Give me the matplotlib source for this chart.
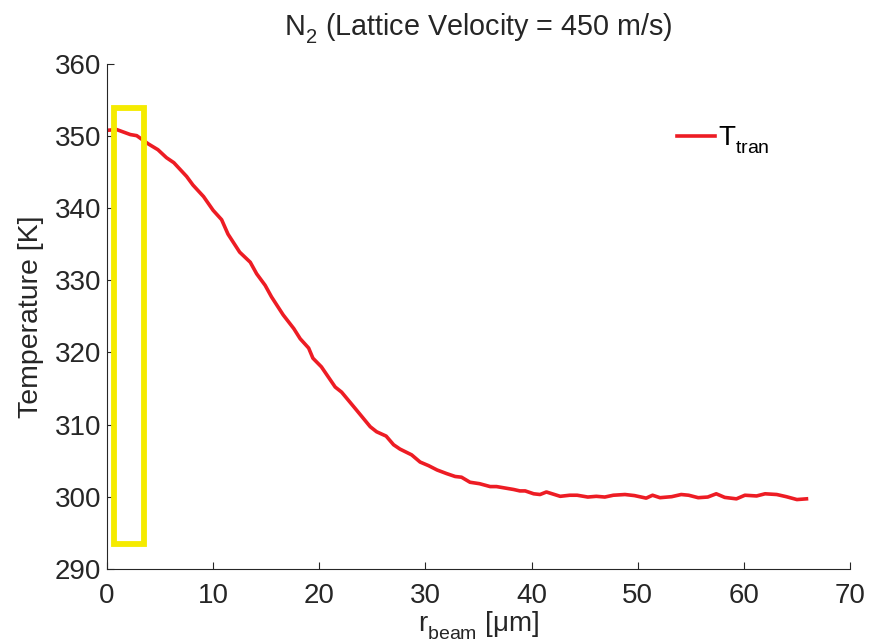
import matplotlib
matplotlib.use('Agg')
import matplotlib.pyplot as plt
from matplotlib.patches import Rectangle

plt.rcParams['font.family'] = ['Liberation Sans', 'DejaVu Sans']
plt.rcParams['mathtext.fontset'] = 'custom'
plt.rcParams['mathtext.rm'] = 'Liberation Sans'

# MATLAB drops its subscripts further than mathtext does
try:
    from matplotlib import _mathtext
    _mathtext.FontConstantsBase.sub1 = 0.55
    _mathtext.FontConstantsBase.sub2 = 0.65
except (ImportError, AttributeError):
    pass

# values
r_beam = [0.1, 0.9, 2.2, 2.8, 3.9, 4.8, 5.6, 6.3, 7.5, 8.1, 9.1, 10.0, 10.8,
          11.4, 12.5, 13.5, 14.1, 14.9, 15.5, 16.6, 17.6, 18.2, 19.0, 19.4,
          20.2, 21.5, 22.1, 23.4, 24.8, 25.4, 26.3, 27.0, 27.6, 28.7, 29.5,
          30.3, 31.1, 32.0, 32.8, 33.4, 34.2, 35.1, 36.1, 36.7, 37.5, 38.3,
          38.9, 39.4, 40.2, 40.8, 41.4, 42.7, 43.6, 44.3, 45.3, 46.1, 46.9,
          47.7, 48.8, 49.7, 50.8, 51.4, 52.1, 53.2, 54.1, 54.8, 55.7, 56.6,
          57.4, 58.2, 59.3, 60.1, 61.2, 62.0, 63.1, 64.0, 65.0, 65.9]
t_tran = [350.8, 350.9, 350.2, 350.05, 348.9, 348.1, 347.0, 346.3, 344.4,
          343.2, 341.6, 339.7, 338.4, 336.4, 333.9, 332.5, 330.9, 329.3,
          327.7, 325.2, 323.3, 321.9, 320.6, 319.2, 318.0, 315.2, 314.5,
          312.2, 309.7, 309.0, 308.4, 307.2, 306.6, 305.8, 304.8, 304.3,
          303.7, 303.2, 302.8, 302.7, 302.0, 301.8, 301.4, 301.4, 301.2,
          301.0, 300.8, 300.8, 300.4, 300.3, 300.65, 300.05, 300.2, 300.2,
          299.95, 300.05, 299.95, 300.2, 300.3, 300.15, 299.8, 300.2, 299.86,
          300.0, 300.3, 300.2, 299.86, 299.95, 300.4, 299.9, 299.7, 300.2,
          300.1, 300.4, 300.3, 300.0, 299.6, 299.7]

x_ticks = [0, 10, 20, 30, 40, 50, 60, 70]
y_ticks = [290, 300, 310, 320, 330, 340, 350, 360]

# highlighted region (yellow box)
box_r = (0.7, 3.5)
box_t = (293.4, 353.9)


def plot_temperature():
    fig = plt.figure(figsize=(8.82, 6.42), dpi=100)
    ax = fig.add_axes([0.1213, 0.114, 0.8424, 0.7865])

    ax.plot(r_beam, t_tran, '-', color='#ED1C24', lw=2.6,
            label=r'T$_{\mathregular{tran}}$')

    ax.add_patch(Rectangle((box_r[0], box_t[0]), box_r[1] - box_r[0],
                           box_t[1] - box_t[0], fill=False,
                           edgecolor='#F5EB00', lw=4.2, clip_on=False,
                           zorder=5))

    ax.set_xlim(0, 70)
    ax.set_ylim(290, 360)
    ax.set_xticks(x_ticks)
    ax.set_yticks(y_ticks)

    for side in ['top', 'right']:
        ax.spines[side].set_visible(False)
    for side in ['left', 'bottom']:
        ax.spines[side].set_color('#262626')
        ax.spines[side].set_linewidth(0.8)
    ax.tick_params(direction='in', length=5, width=0.8, color='#262626',
                   labelsize=20, labelcolor='#262626')
    ax.tick_params(axis='x', pad=10)
    ax.tick_params(axis='y', pad=4)

    ax.set_xlabel(r'r$_{\mathregular{beam}}$ [μm]', fontsize=20,
                  color='#262626', labelpad=0)
    ax.set_ylabel('Temperature [K]', fontsize=20.5, color='#262626',
                  labelpad=8)
    ax.set_title(r'N$_{\mathregular{2}}$ (Lattice Velocity = 450 m/s)',
                 fontsize=20.7, color='#262626', pad=21)

    ax.legend(loc='upper right', bbox_to_anchor=(0.925, 0.93),
              frameon=False, fontsize=20, handlelength=1.35,
              handletextpad=0.1)
    return fig


if __name__ == '__main__':
    fig = plot_temperature()
    fig.savefig('out.png', dpi=100)
